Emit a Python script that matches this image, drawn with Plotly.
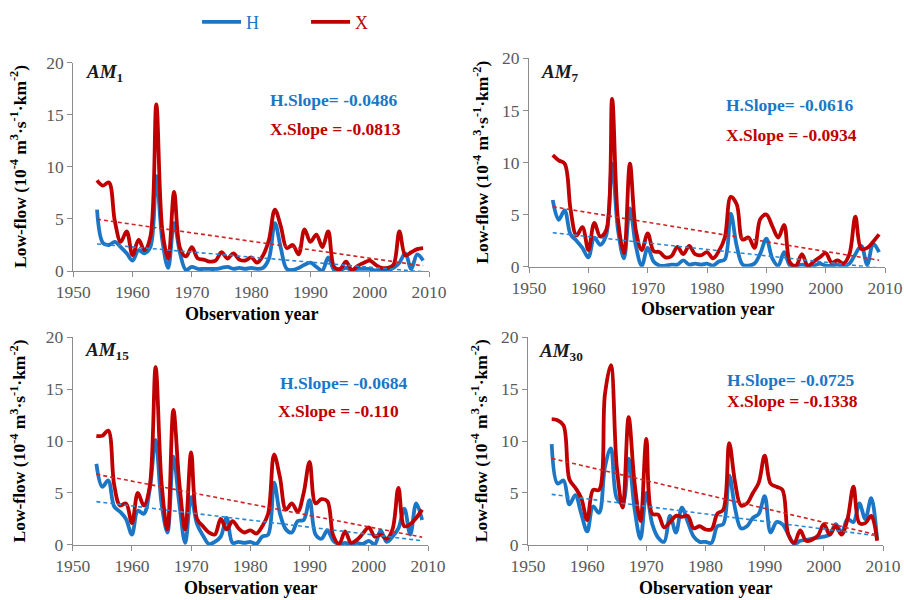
import plotly.graph_objects as go

# Observation years
years = list(range(1954, 2010))

# AM1 low-flow series
am1_h = [5.9, 2.7, 2.5, 2.8, 2.3, 1.7, 1.0, 2.0, 1.7, 2.3, 9.1, 3.0, 0.3, 4.6, 1.7, 0.1,
         0.4, 0.2, 0.2, 0.2, 0.2, 0.3, 0.4, 0.2, 0.3, 0.2, 0.3, 0.2, 0.3, 1.2, 4.6, 2.2,
         0.2, 0.1, 0.3, 0.6, 0.8, 0.4, 0.05, 1.3, 0.1, 0.1, 0.3, 0.1, 0.2, 0.2, 0.2, 0.05,
         0.1, 0.05, 0.3, 0.8, 1.7, 0.2, 1.6, 1.0]
am1_x = [8.7, 8.2, 8.5, 4.8, 2.8, 3.8, 1.5, 3.0, 2.0, 3.3, 16.0, 4.0, 1.2, 7.6, 2.2, 1.4,
         2.3, 1.2, 1.1, 0.9, 1.0, 1.8, 1.2, 1.7, 1.1, 1.0, 1.3, 0.8, 1.5, 3.0, 5.9, 4.3,
         2.2, 2.5, 1.6, 4.0, 2.8, 3.5, 2.3, 3.8, 0.4, 0.2, 0.9, 0.1, 0.5, 0.8, 1.0, 0.6,
         0.3, 0.3, 0.6, 3.8, 1.5, 1.8, 2.1, 2.2]

# AM7 low-flow series
am7_h = [6.4, 4.5, 5.4, 3.1, 2.5, 1.8, 0.9, 2.8, 2.1, 3.0, 9.9, 3.5, 0.8, 5.6, 2.0, 0.1,
         1.8, 0.5, 0.1, 0.1, 0.2, 0.2, 0.6, 0.2, 0.3, 0.2, 0.3, 0.1, 0.5, 0.7, 5.1, 2.0,
         0.2, 0.1, 0.3, 1.3, 2.7, 0.8, 0.1, 1.4, 0.1, 0.1, 0.2, 0.1, 0.1, 0.3, 0.1, 0.1,
         0.2, 0.05, 0.3, 1.2, 2.0, 0.2, 2.2, 1.4]
am7_x = [10.7, 10.2, 9.9, 5.5, 3.0, 3.8, 1.6, 4.2, 2.9, 3.5, 16.1, 4.5, 1.3, 9.9, 3.5, 1.6,
         3.2, 1.5, 1.4, 0.9, 1.0, 1.9, 1.2, 2.0, 1.2, 1.1, 1.4, 0.8, 1.5, 2.8, 6.7, 6.0,
         2.6, 2.8, 1.8, 4.6, 5.0, 3.9, 2.8, 4.0, 0.4, 0.1, 1.2, 0.1, 0.5, 0.9, 1.3, 0.4,
         0.6, 0.3, 1.2, 4.8, 1.7, 1.8, 2.4, 3.1]

# AM15 low-flow series
am15_h = [7.8, 5.6, 6.2, 3.7, 3.2, 2.5, 1.0, 3.3, 3.0, 5.3, 10.1, 4.0, 1.2, 8.5, 4.0, 0.2,
          4.6, 2.0, 0.9, 0.1, 0.3, 0.8, 2.6, 0.2, 0.3, 0.2, 0.3, 0.1, 0.8, 1.0, 6.0, 3.0,
          1.5, 1.2, 2.3, 2.4, 4.3, 1.0, 0.6, 1.4, 0.4, 0.1, 0.2, 0.1, 0.2, 0.1, 0.4, 0.05,
          1.4, 0.3, 0.8, 1.6, 3.5, 1.0, 4.0, 2.4]
am15_x = [10.5, 10.5, 11.0, 5.8, 3.8, 4.0, 2.1, 5.0, 3.8, 5.6, 17.1, 6.0, 1.5, 13.0, 6.0, 1.5,
          8.9, 2.5, 1.8, 1.2, 1.0, 2.5, 1.5, 2.3, 1.6, 1.2, 1.4, 1.1, 1.8, 3.0, 8.7, 6.5,
          3.4, 4.0, 3.2, 5.0, 8.0, 4.0, 4.4, 4.2, 0.9, 0.1, 1.3, 0.2, 0.5, 1.1, 1.7, 0.8,
          1.0, 0.6, 1.5, 5.5, 1.8, 2.0, 2.6, 3.4]

# AM30 low-flow series
am30_h = [9.7, 5.9, 6.2, 3.9, 4.8, 3.0, 1.3, 3.7, 3.1, 7.5, 9.3, 4.5, 4.0, 8.3, 3.5, 0.6,
          5.0, 2.0, 0.7, 0.3, 2.8, 1.2, 3.6, 2.2, 0.8, 0.3, 0.3, 0.2, 1.8, 2.0, 6.7, 3.5,
          1.6, 1.8, 2.6, 3.0, 4.7, 1.2, 2.2, 2.0, 1.0, 0.1, 0.4, 0.5, 0.6, 0.7, 0.8, 1.0,
          2.0, 1.2, 2.5, 2.2, 4.0, 2.5, 4.5, 0.5]
am30_x = [12.1, 12.0, 11.5, 6.3, 5.5, 4.5, 2.4, 5.3, 5.3, 14.5, 17.3, 7.5, 3.6, 12.3, 6.0, 2.3,
          10.2, 3.0, 2.9, 1.7, 2.2, 2.8, 2.7, 2.8, 1.6, 1.8, 1.5, 1.5, 3.0, 3.4, 9.8, 6.0,
          3.8, 4.0, 5.0, 6.0, 8.6, 5.9, 5.6, 5.3, 1.0, 0.2, 1.4, 0.4, 0.5, 0.9, 2.0, 1.0,
          1.8, 1.0, 2.5, 5.6, 2.1, 2.1, 2.8, 0.4]

# Trend slopes and values of the trend lines at the first year
panel_names = ["AM<sub>1</sub>", "AM<sub>7</sub>", "AM<sub>15</sub>", "AM<sub>30</sub>"]
h_slopes = [-0.0486, -0.0616, -0.0684, -0.0725]
x_slopes = [-0.0813, -0.0934, -0.110, -0.1338]
h_slope_labels = ["-0.0486", "-0.0616", "-0.0684", "-0.0725"]
x_slope_labels = ["-0.0813", "-0.0934", "-0.110", "-0.1338"]
h_trend_start = [2.6, 3.26, 4.17, 4.87]
x_trend_start = [4.97, 5.76, 6.8, 8.33]

h_series = [am1_h, am7_h, am15_h, am30_h]
x_series = [am1_x, am7_x, am15_x, am30_x]

BLUE = "#1B76C6"
RED = "#C00000"
BLUE_DASH = "#2B86D4"
RED_DASH = "#D02424"
SERIF = "Liberation Serif"

# Panel placement (paper coordinates): x domain, y domain
x_domains = [[0.0811, 0.4746], [0.5852, 0.9790], [0.0804, 0.4735], [0.5841, 0.9768]]
y_domains = [[0.5483, 0.8955], [0.5555, 0.9028], [0.0917, 0.4383], [0.0917, 0.4383]]
ytitle_offset = [0.061, 0.054, 0.061, 0.054]

# Text anchors in data coordinates per panel
am_pos = [(1951.8, 19.0), (1951.6, 18.6), (1951.8, 18.7), (1951.6, 18.6)]
hs_pos = [(1982.8, 16.4), (1982.8, 15.5), (1984.6, 15.6), (1983.3, 15.9)]
xs_pos = [(1982.8, 13.65), (1982.8, 12.6), (1984.3, 12.9), (1983.3, 13.8)]

fig = go.Figure()
annotations = []

for i in range(4):
    ax = "" if i == 0 else str(i + 1)
    xr, yr = "x" + ax, "y" + ax
    first = i == 0
    fig.add_trace(go.Scatter(
        x=years, y=h_series[i], mode="lines", xaxis=xr, yaxis=yr,
        name="<span style='color:%s'>H</span>" % BLUE, legendgroup="H", showlegend=first,
        line=dict(color=BLUE, width=3.8, shape="spline", smoothing=1.0)))
    fig.add_trace(go.Scatter(
        x=years, y=x_series[i], mode="lines", xaxis=xr, yaxis=yr,
        name="<span style='color:%s'>X</span>" % RED, legendgroup="X", showlegend=first,
        line=dict(color=RED, width=3.8, shape="spline", smoothing=1.0)))
    # linear trend lines from stated slopes
    y0, y1 = years[0], years[-1]
    fig.add_trace(go.Scatter(
        x=[y0, y1], y=[h_trend_start[i], h_trend_start[i] + h_slopes[i] * (y1 - y0)],
        mode="lines", xaxis=xr, yaxis=yr, showlegend=False,
        line=dict(color=BLUE_DASH, width=1.6, dash="4px,3px")))
    fig.add_trace(go.Scatter(
        x=[y0, y1], y=[x_trend_start[i], x_trend_start[i] + x_slopes[i] * (y1 - y0)],
        mode="lines", xaxis=xr, yaxis=yr, showlegend=False,
        line=dict(color=RED_DASH, width=1.6, dash="4px,3px")))

    axis_common = dict(showline=True, linecolor="#8C8C8C", linewidth=1, ticks="outside",
                       ticklen=5, tickcolor="#8C8C8C", showgrid=False, zeroline=False,
                       automargin=False,
                       tickfont=dict(family=SERIF, size=17.5, color="#595959"))
    fig.layout["xaxis" + ax] = dict(domain=x_domains[i], anchor=yr, range=[1950, 2010],
                                    dtick=10, tick0=1950, **axis_common)
    fig.layout["yaxis" + ax] = dict(domain=y_domains[i], anchor=xr, range=[0, 20],
                                    dtick=5, tick0=0, **axis_common)

    annotations.append(dict(x=am_pos[i][0], y=am_pos[i][1], xref=xr, yref=yr,
                            text="<b><i>%s</i></b>" % panel_names[i].replace("<sub>", "</i><sub>").replace("</sub>", "</sub><i>"),
                            showarrow=False, xanchor="left", yanchor="middle",
                            font=dict(family=SERIF, size=19, color="#1A1A1A")))
    annotations.append(dict(x=hs_pos[i][0], y=hs_pos[i][1], xref=xr, yref=yr,
                            text="<b>H.Slope= %s</b>" % h_slope_labels[i],
                            showarrow=False, xanchor="left", yanchor="middle",
                            font=dict(family=SERIF, size=17.5, color=BLUE)))
    annotations.append(dict(x=xs_pos[i][0], y=xs_pos[i][1], xref=xr, yref=yr,
                            text="<b>X.Slope = %s</b>" % x_slope_labels[i],
                            showarrow=False, xanchor="left", yanchor="middle",
                            font=dict(family=SERIF, size=17.5, color=RED)))

    # axis titles
    xd, yd = x_domains[i], y_domains[i]
    annotations.append(dict(x=(xd[0] + xd[1]) / 2, y=yd[0] - 0.071, xref="paper", yref="paper",
                            text="<b>Observation year</b>", showarrow=False,
                            xanchor="center", yanchor="middle",
                            font=dict(family=SERIF, size=18, color="#000000")))
    annotations.append(dict(x=xd[0] - ytitle_offset[i], y=(yd[0] + yd[1]) / 2, xref="paper", yref="paper",
                            text="<b>Low-flow (10<sup>-4</sup> m<sup>3</sup>·s<sup>-1</sup>·km<sup>-2</sup>)</b>",
                            showarrow=False, textangle=-90, xanchor="center", yanchor="middle",
                            font=dict(family=SERIF, size=17.5, color="#000000")))

fig.update_layout(
    width=904, height=600,
    margin=dict(l=0, r=0, t=0, b=0, autoexpand=False),
    paper_bgcolor="white", plot_bgcolor="white",
    annotations=annotations,
    legend=dict(orientation="h", x=0.218, y=0.994, xanchor="left", yanchor="top",
                font=dict(family=SERIF, size=18), itemwidth=39,
                entrywidth=55, entrywidthmode="pixels",
                bgcolor="rgba(0,0,0,0)"),
)

fig.write_html("out.html")
